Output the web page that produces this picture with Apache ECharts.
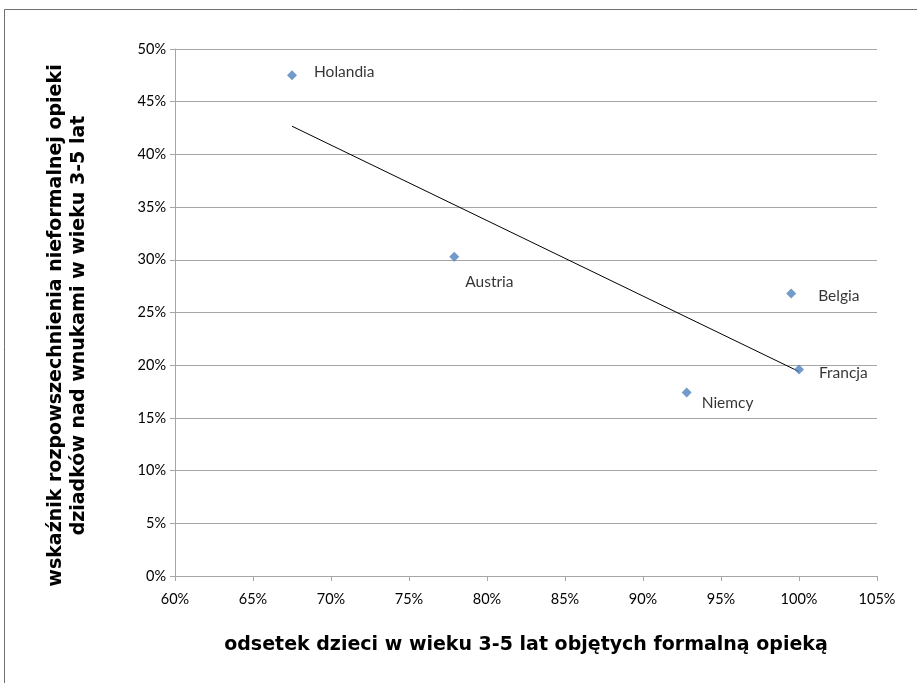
<!DOCTYPE html>
<html><head><meta charset="utf-8">
<script src="https://cdn.jsdelivr.net/npm/echarts@6/dist/echarts.min.js"></script>
<style>html,body{margin:0;padding:0;background:#fff}#c{width:917px;height:683px}</style>
</head><body><div id="c"></div>
<script>
const countries = ['Holandia','Austria','Belgia','Francja','Niemcy'];
const formalCare = [67.5, 77.9, 99.5, 100.0, 92.8];
const informalCare = [47.5, 30.3, 26.8, 19.6, 17.4];
const xTicks = {min:60, max:105, interval:5};
const yTicks = {min:0, max:50, interval:5};

// linear trend from the data
const n = formalCare.length;
const mx = formalCare.reduce((a,b)=>a+b,0)/n;
const my = informalCare.reduce((a,b)=>a+b,0)/n;
let sxy=0, sxx=0;
for(let i=0;i<n;i++){sxy+=(formalCare[i]-mx)*(informalCare[i]-my);sxx+=(formalCare[i]-mx)**2;}
const slope=sxy/sxx, icpt=my-slope*mx;
const xMin=Math.min(...formalCare), xMax=Math.max(...formalCare);
const trend=[[xMin,icpt+slope*xMin],[xMax,icpt+slope*xMax]];

const labelOffsets = {Holandia:[12,-3],Austria:[1,25],Belgia:[17,2],Francja:[10,4],Niemcy:[5,10]};
const pts = countries.map((c,i)=>({value:[formalCare[i],informalCare[i]],name:c,
  label:{show:true,formatter:c,position:'right',offset:labelOffsets[c],fontFamily:'Lato',fontSize:15.5,color:'#000'}}));

const chart = echarts.init(document.getElementById('c'),null,{renderer:'canvas'});
chart.setOption({
  animation:false,
  backgroundColor:'#fff',
  graphic:[{type:'rect',shape:{x:4.5,y:9.5,width:1000,height:1000},style:{fill:'none',stroke:'#6f6f6f',lineWidth:1}}],
  grid:{left:175,right:40,top:49,bottom:107,containLabel:false},
  xAxis:{type:'value',min:xTicks.min,max:xTicks.max,interval:xTicks.interval,
    name:'odsetek dzieci w wieku 3-5 lat objętych formalną opieką',nameLocation:'middle',nameGap:60,
    nameTextStyle:{fontFamily:'DejaVu Sans',fontWeight:'bold',fontSize:19,color:'#000',verticalAlign:'top'},
    axisLine:{show:true,onZero:false,lineStyle:{color:'#a6a6a6'}},
    axisTick:{show:true,length:5,lineStyle:{color:'#a6a6a6'}},
    axisLabel:{formatter:'{value}%',fontFamily:'Lato',fontSize:14.5,color:'#000',margin:16},
    splitLine:{show:false}},
  yAxis:{type:'value',min:yTicks.min,max:yTicks.max,interval:yTicks.interval,
    name:'wskaźnik rozpowszechnienia nieformalnej opieki\ndziadków nad wnukami w wieku 3-5 lat',nameLocation:'middle',nameGap:84,
    nameTextStyle:{fontFamily:'DejaVu Sans',fontWeight:'bold',fontSize:19,color:'#000',lineHeight:23,padding:[0,26,0,0]},
    axisLine:{show:true,lineStyle:{color:'#a6a6a6'}},
    axisTick:{show:true,length:5,lineStyle:{color:'#a6a6a6'}},
    axisLabel:{formatter:'{value}%',fontFamily:'Lato',fontSize:14.5,color:'#000',margin:9},
    splitLine:{show:true,lineStyle:{color:'#a6a6a6',width:1}}},
  series:[
    {type:'line',data:trend,symbol:'none',lineStyle:{color:'#000',width:1},silent:true,z:2},
    {type:'scatter',data:pts,symbol:'diamond',symbolSize:10,itemStyle:{color:'#4f81bd'},z:3}
  ]
});
</script></body></html>
